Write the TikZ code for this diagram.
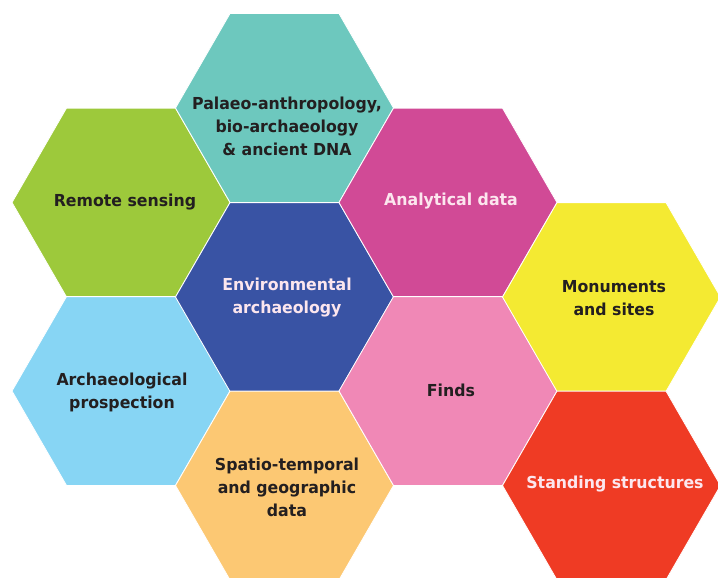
\documentclass[tikz,border=0pt]{standalone}
\usepackage{fontspec}
\setmainfont{DejaVu Sans}[FakeStretch=0.955]
\definecolor{cgreen}{HTML}{9DC93B}
\definecolor{cteal}{HTML}{6DC8BE}
\definecolor{cmag}{HTML}{D14A96}
\definecolor{cyel}{HTML}{F4EA32}
\definecolor{cred}{HTML}{EF3B24}
\definecolor{cpink}{HTML}{F088B6}
\definecolor{corange}{HTML}{FCC873}
\definecolor{cblue}{HTML}{87D5F4}
\definecolor{cnavy}{HTML}{3953A4}
\definecolor{tdark}{HTML}{231F20}
\definecolor{tlight}{HTML}{FCE6EE}
\tikzset{
  hexlabel/.style={align=center, inner sep=0pt,
    font=\fontsize{16.5}{23}\selectfont\bfseries},
  darktext/.style={hexlabel, text=tdark},
  lighttext/.style={hexlabel, text=tlight},
  hexcell/.style={draw=white, line width=0.8pt, line join=miter}
}
\newcommand{\hexagonat}[3]{%
  \filldraw[hexcell, fill=#3] (#1-109,#2) -- (#1-54.5,#2-94.4) -- (#1+54.5,#2-94.4)
    -- (#1+109,#2) -- (#1+54.5,#2+94.4) -- (#1-54.5,#2+94.4) -- cycle;}
\begin{document}
\begin{tikzpicture}[x=1pt,y=-1pt]
\useasboundingbox (0,0) rectangle (718,578);
\begin{scope}
\clip (0,0) rectangle (718,578);
\hexagonat{121}{202.5}{cgreen}
\hexagonat{121}{391}{cblue}
\hexagonat{284.5}{108}{cteal}
\hexagonat{284.5}{297}{cnavy}
\hexagonat{284.5}{485.5}{corange}
\hexagonat{448}{202.5}{cmag}
\hexagonat{448}{391}{cpink}
\hexagonat{611.5}{297}{cyel}
\hexagonat{611.5}{485.5}{cred}
\end{scope}
\node[darktext] (remote) at (125,202) {Remote sensing};
\node[darktext] (palaeo) at (287,126) {Palaeo-anthropology,\\bio-archaeology\\\& ancient DNA};
\node[lighttext] (analytical) at (451,201) {Analytical data};
\node[lighttext] (env) at (287,298) {Environmental\\archaeology};
\node[darktext] (monuments) at (614,298) {Monuments\\and sites};
\node[darktext] (prospection) at (122,392) {Archaeological\\prospection};
\node[darktext] (finds) at (451,390) {Finds};
\node[darktext] (spatio) at (287,487) {Spatio-temporal\\and geographic\\data};
\node[lighttext] (standing) at (615,484) {Standing structures};
\end{tikzpicture}
\end{document}
